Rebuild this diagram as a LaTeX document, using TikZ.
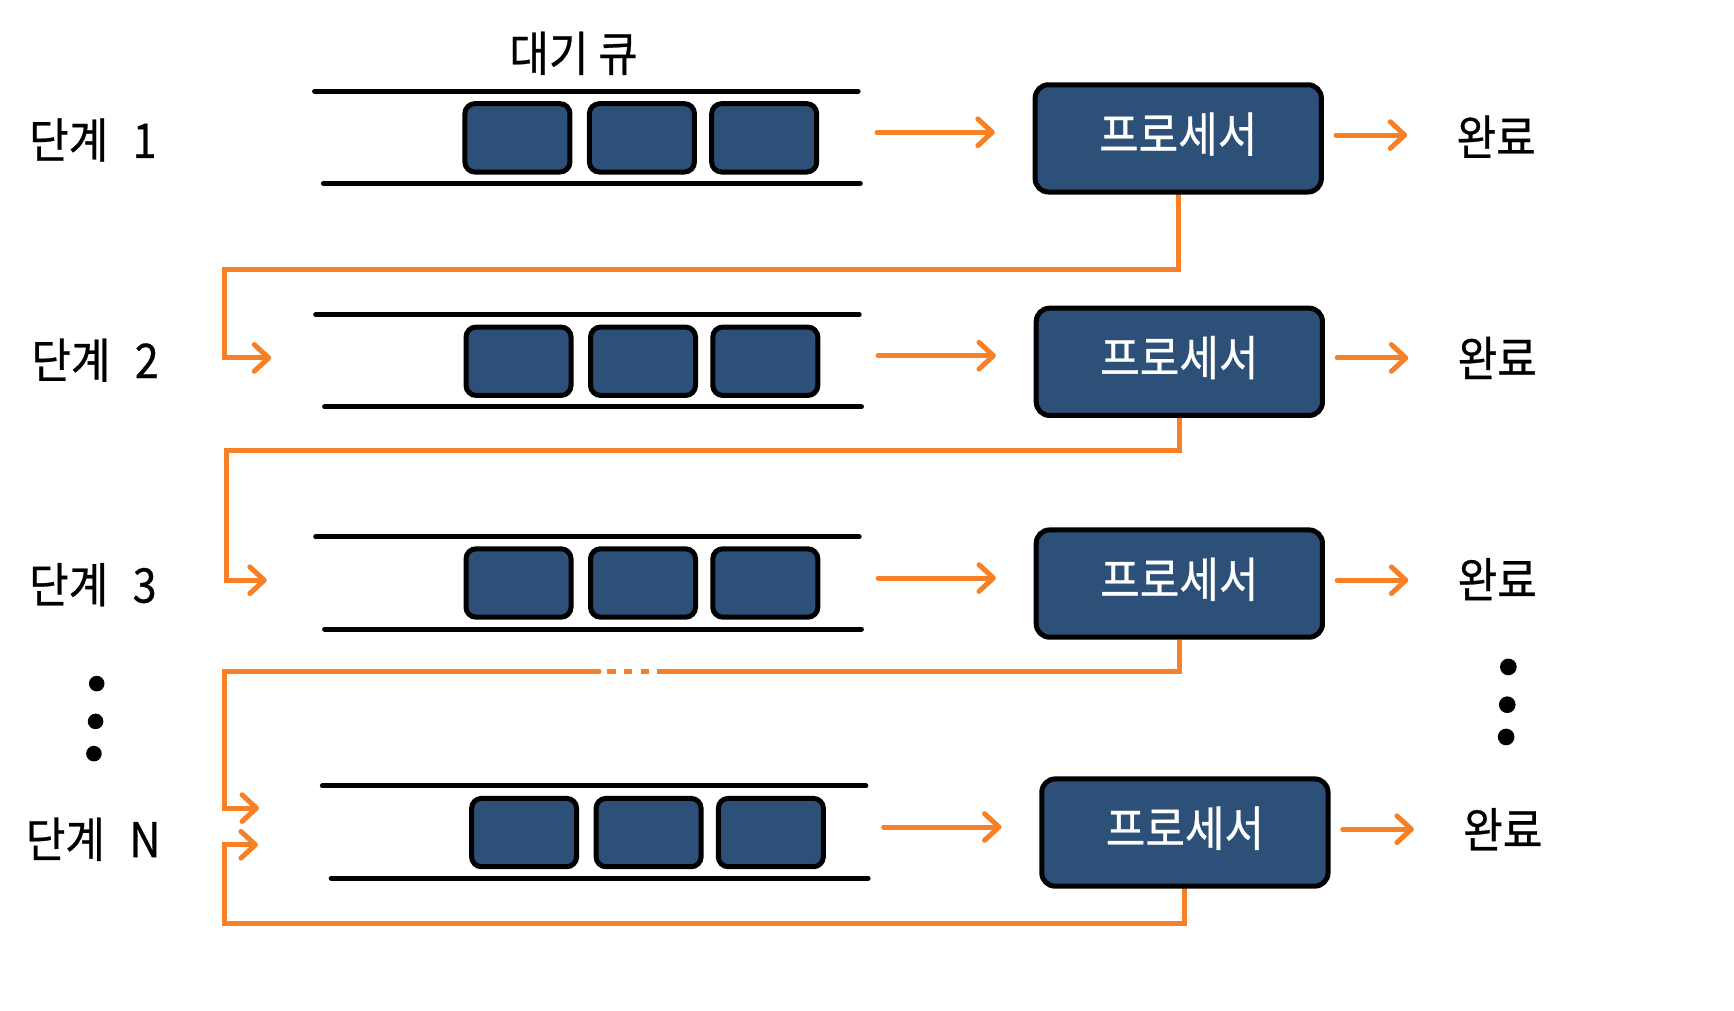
\documentclass[tikz,border=0pt]{standalone}
\usepackage{fontspec}
\setmainfont[FakeStretch=0.9,FakeBold=0.6]{Noto Sans CJK KR}
\usetikzlibrary{arrows.meta}
\definecolor{qorange}{RGB}{247,128,38}
\definecolor{qblue}{RGB}{44,80,119}
\newcommand\bigfs{\fontsize{43}{47}\selectfont}
\pgfdeclarelayer{paper}
\pgfdeclarelayer{bg}
\pgfsetlayers{paper,bg,main}
\begin{document}
\begin{tikzpicture}[x=1pt,y=-1pt,
  qline/.style={line width=4.5pt, line cap=round},
  item/.style={draw, line width=4.5pt, fill=qblue, rounded corners=9pt,
    minimum width=94.5pt, minimum height=61.5pt, inner sep=0pt},
  proc/.style={draw, line width=4.5pt, fill=qblue, rounded corners=12pt,
    minimum width=257.5pt, minimum height=96.5pt, inner sep=0pt,
    text=white, font=\bigfs, text height=31.5pt, text depth=7pt},
  flow/.style={draw=qorange, line width=4.5pt, line cap=round,
    -{Straight Barb[length=13pt,width=24pt,line cap=round,line join=round]}},
  loopline/.style={draw=qorange, line width=4.5pt},
  lbl/.style={font=\bigfs, inner sep=0pt},
  dot/.style={fill=black}
]
\begin{pgfonlayer}{paper}
\fill[white] (0,0) rectangle (1560,908.65);
\end{pgfonlayer}
\useasboundingbox (0,0) rectangle (1560,908.65);

% title
\node[lbl] (title) at (516,48) {대기 큐};

% ---------- Row 1 ----------
\node[lbl, anchor=west] (s1) at (26,126) {단계\hspace{22pt}1};
\draw[qline] (283,82) -- (772,82);
\draw[qline] (291,165) -- (774,165);
\node[item] (q1a) at (465.5,124) {};
\node[item] (q1b) at (577.5,124) {};
\node[item] (q1c) at (687.5,124) {};
\node[proc] (p1) at (1060,124.5) {프로세서};
\node[lbl] (d1) at (1346,123) {완료};
\coordinate (a1s) at (789,119);
\coordinate (a1e) at (895,119);
\draw[flow] (a1s) -- (a1e);
\coordinate (o1s) at (1202,121.5);
\coordinate (o1e) at (1266,121.5);
\draw[flow] (o1s) -- (o1e);

% ---------- Row 2 ----------
\node[lbl, anchor=west] (s2) at (28,324) {단계\hspace{22pt}2};
\draw[qline] (284,283) -- (773,283);
\draw[qline] (292,366) -- (775,366);
\node[item] (q2a) at (466.5,325) {};
\node[item] (q2b) at (578.5,325) {};
\node[item] (q2c) at (688.5,325) {};
\node[proc] (p2) at (1061,325.5) {프로세서};
\node[lbl] (d2) at (1347,322) {완료};
\coordinate (a2s) at (790,320);
\coordinate (a2e) at (896,320);
\draw[flow] (a2s) -- (a2e);
\coordinate (o2s) at (1203,322);
\coordinate (o2e) at (1267,322);
\draw[flow] (o2s) -- (o2e);

% ---------- Row 3 ----------
\node[lbl, anchor=west] (s3) at (26,526) {단계\hspace{22pt}3};
\draw[qline] (284,483) -- (773,483);
\draw[qline] (292,566) -- (775,566);
\node[item] (q3a) at (466.5,524.5) {};
\node[item] (q3b) at (578.5,524.5) {};
\node[item] (q3c) at (688.5,524.5) {};
\node[proc] (p3) at (1061,525) {프로세서};
\node[lbl] (d3) at (1347,521) {완료};
\coordinate (a3s) at (790,520);
\coordinate (a3e) at (896,520);
\draw[flow] (a3s) -- (a3e);
\coordinate (o3s) at (1203,522);
\coordinate (o3e) at (1267,522);
\draw[flow] (o3s) -- (o3e);

% ---------- Row N ----------
\node[lbl, anchor=west] (sN) at (23,755) {단계\hspace{22pt}N};
\draw[qline] (290,707) -- (779,707);
\draw[qline] (298,790) -- (781,790);
\node[item] (qNa) at (471.5,749) {};
\node[item] (qNb) at (583.5,749) {};
\node[item] (qNc) at (693.5,749) {};
\node[proc] (pN) at (1066,749) {프로세서};
\node[lbl] (dN) at (1352,746) {완료};
\coordinate (aNs) at (795,744);
\coordinate (aNe) at (901,744);
\draw[flow] (aNs) -- (aNe);
\coordinate (oNs) at (1208,746);
\coordinate (oNe) at (1272,746);
\draw[flow] (oNs) -- (oNe);

% ---------- ellipsis dots ----------
\fill[dot] (87,615) circle (7);
\fill[dot] (86,649) circle (7);
\fill[dot] (84.5,678) circle (7);
\fill[dot] (1357,600) circle (7.5);
\fill[dot] (1356,634) circle (7.5);
\fill[dot] (1355,663) circle (7.5);

% ---------- feedback loops ----------
\coordinate (l1a) at (202,242);
\coordinate (l1b) at (244,322);
\coordinate (l2a) at (204,405);
\coordinate (l2b) at (240,522);
\coordinate (g2) at (591,604);
\coordinate (g1) at (539,604);
\coordinate (l3a) at (202,604);
\coordinate (l3b) at (233,727);
\coordinate (lNa) at (202,831);
\coordinate (lNb) at (232,760);
\begin{pgfonlayer}{bg}
\draw[flow] (p1.south) |- (l1a) |- (l1b);
\draw[flow] (p2.south) |- (l2a) |- (l2b);
\draw[loopline] (p3.south) |- (g2);
\draw[loopline, dash pattern=on 7.5pt off 7.5pt, dash phase=7.5pt] (g1) -- (g2);
\draw[flow] (g1) -- (l3a) |- (l3b);
\draw[flow] (pN.south) |- (lNa) |- (lNb);
\end{pgfonlayer}
\end{tikzpicture}
\end{document}
